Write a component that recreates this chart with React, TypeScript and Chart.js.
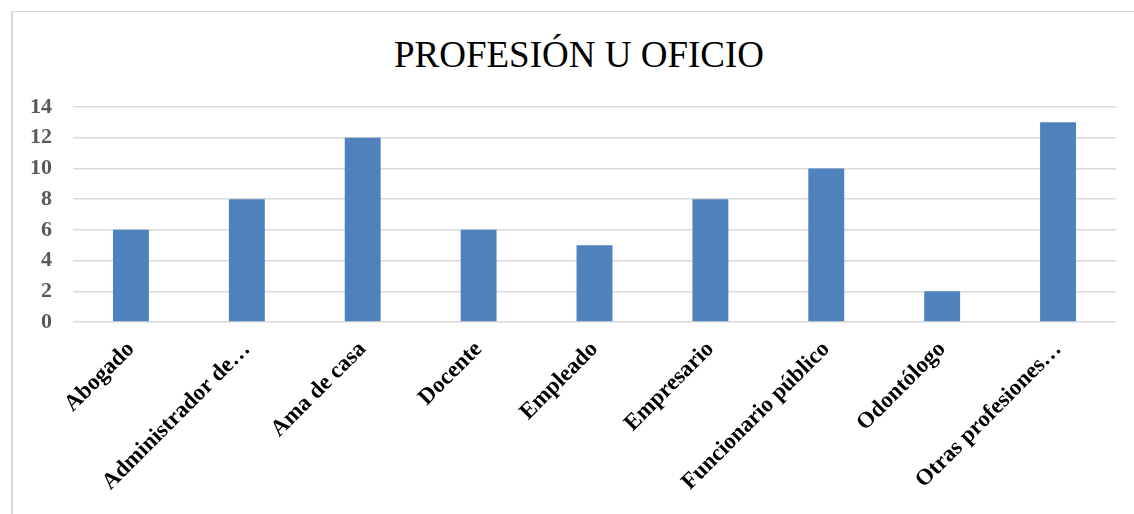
import React, { useEffect, useRef } from "react";
import { Chart, registerables } from "chart.js";

Chart.register(...registerables);

const categories = [
  "Abogado",
  "Administrador de…",
  "Ama de casa",
  "Docente",
  "Empleado",
  "Empresario",
  "Funcionario público",
  "Odontólogo",
  "Otras profesiones…",
];
const values = [6, 8, 12, 6, 5, 8, 10, 2, 13];
const titleText = "PROFESIÓN U OFICIO";
const yMax = 14;
const yStep = 2;

export default function App() {
  const ref = useRef<HTMLCanvasElement | null>(null);

  useEffect(() => {
    if (!ref.current) return;
    const chart = new Chart(ref.current, {
      type: "bar",
      data: {
        labels: categories,
        datasets: [
          {
            data: values,
            backgroundColor: "#4f81bd",
            borderWidth: 0,
            categoryPercentage: 1,
            barPercentage: 0.31,
          },
        ],
      },
      options: {
        animation: false,
        responsive: false,
        maintainAspectRatio: false,
        layout: { padding: { left: 0, right: 18, top: 107, bottom: 0 } },
        plugins: {
          legend: { display: false },
          tooltip: { enabled: false },
          title: { display: false },
        },
        scales: {
          x: {
            grid: { display: false, drawTicks: false },
            border: { display: false },
            ticks: {
              autoSkip: false,
              minRotation: 45,
              maxRotation: 45,
              padding: 14,
              color: "#000000",
              font: { family: "Liberation Serif", size: 23, weight: "bold" },
            },
            afterFit: (scale: any) => {
              scale.height = 192;
            },
          },
          y: {
            min: 0,
            max: yMax,
            ticks: {
              stepSize: yStep,
              padding: 21,
              color: "#595959",
              font: { family: "Liberation Serif", size: 22, weight: "bold" },
            },
            grid: { color: "#d9d9d9", lineWidth: 1.5, drawTicks: false },
            border: { display: false },
            afterFit: (scale: any) => {
              scale.width = 73;
            },
          },
        },
      },
    });
    return () => chart.destroy();
  }, []);

  return (
    <div
      style={{
        position: "fixed",
        left: 0,
        top: 0,
        width: 1134,
        height: 514,
        overflow: "hidden",
        background: "#ffffff",
      }}
    >
      <div
        style={{
          position: "absolute",
          left: 11,
          top: 11,
          width: 1200,
          height: 600,
          borderTop: "1px solid #d9d9d9",
          borderLeft: "2px solid #d9d9d9",
        }}
      />
      <div
        style={{
          position: "absolute",
          left: 0,
          top: 36,
          width: 1158,
          textAlign: "center",
          fontFamily: "'Liberation Serif'",
          fontSize: 37,
          lineHeight: 1,
          color: "#000000",
          whiteSpace: "nowrap",
        }}
      >
        {titleText}
      </div>
      <canvas
        ref={ref}
        width={1134}
        height={514}
        style={{ position: "absolute", left: 0, top: 0, width: 1134, height: 514 }}
      />
    </div>
  );
}
